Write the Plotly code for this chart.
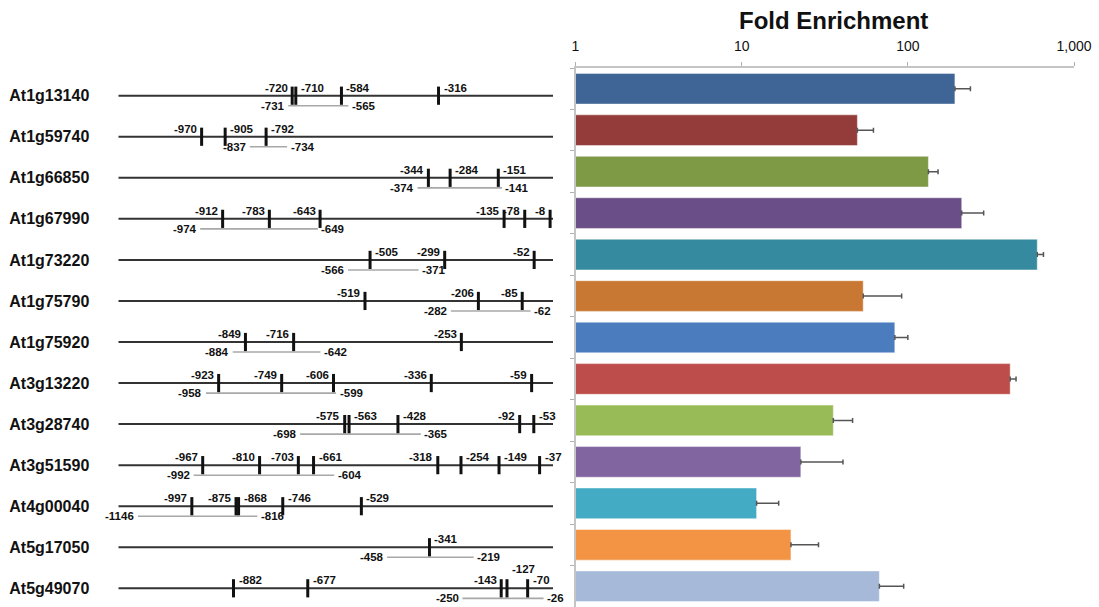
import plotly.graph_objects as go

# ---------------- data ----------------
genes = ["At1g13140", "At1g59740", "At1g66850", "At1g67990", "At1g73220",
         "At1g75790", "At1g75920", "At3g13220", "At3g28740", "At3g51590",
         "At4g00040", "At5g17050", "At5g49070"]

fold_enrichment = [192, 49.7, 133, 211, 601, 53.9, 83.5, 413, 35.6, 22.7, 12.3, 19.8, 67.4]
fold_error = [46, 12.4, 19, 75, 54, 37.9, 16.5, 35, 10.9, 18, 4.4, 9.2, 27]

sites_At1g13140 = [-720, -710, -584, -316]
sites_At1g59740 = [-970, -905, -792]
sites_At1g66850 = [-344, -284, -151]
sites_At1g67990 = [-912, -783, -643, -135, -78, -8]
sites_At1g73220 = [-505, -299, -52]
sites_At1g75790 = [-519, -206, -85]
sites_At1g75920 = [-849, -716, -253]
sites_At3g13220 = [-923, -749, -606, -336, -59]
sites_At3g28740 = [-575, -563, -428, -92, -53]
sites_At3g51590 = [-967, -810, -703, -661, -318, -254, -149, -37]
sites_At4g00040 = [-997, -875, -868, -746, -529]
sites_At5g17050 = [-341]
sites_At5g49070 = [-882, -677, -143, -127, -70]

region_start = [-731, -837, -374, -974, -566, -282, -884, -958, -698, -992, -1146, -458, -250]
region_end = [-565, -734, -141, -649, -371, -62, -642, -599, -365, -604, -816, -219, -26]

promoter_start = -1200
promoter_end = 0

x_ticks = [1, 10, 100, 1000]

sites = [sites_At1g13140, sites_At1g59740, sites_At1g66850, sites_At1g67990,
         sites_At1g73220, sites_At1g75790, sites_At1g75920, sites_At3g13220,
         sites_At3g28740, sites_At3g51590, sites_At4g00040, sites_At5g17050,
         sites_At5g49070]

# ---------------- styles ----------------
bar_colors = ["#3F6496", "#943C3A", "#7E9A45", "#6A4E87", "#358A9F", "#C87833",
              "#4B7DBE", "#BD4D4A", "#98BA57", "#8065A1", "#44ABC5", "#F39444",
              "#A6B9D8"]
label_side_pref = ["LRRR", "LRR", "LLL", "LLLLLL", "RLL", "LLL", "LLL", "LLLLL",
                   "LLLLL", "LLLLLLLL", "LLRRR", "R", "RRLRR"]

W, H = 1099, 607
FONT = "Liberation Sans, Arial, sans-serif"
LBL_SIZE = 11.5
GRAY_OFF = 0.245          # gray region line sits below the promoter line (row units)
top_px = 68
ydom = [0, 1 - top_px / H]
left_dom_px = (118.3, 553.0)
right_dom_px = (575.5, 1074.0)
px_per_bp = (left_dom_px[1] - left_dom_px[0]) / (promoter_end - promoter_start)


def text_w(s, size=LBL_SIZE):
    return size * sum(0.333 if c == "-" else 0.556 for c in s)


def to_px(bp):
    return left_dom_px[0] + (bp - promoter_start) * px_per_bp


def choose_sides(vals, prefs):
    """Pick a side (and level) for each site label so that labels avoid marks."""
    out = []
    occupied = -1e9
    gapL, gapR = 2.5, 3.0
    for k, v in enumerate(vals):
        w = text_w(str(v)) - 1.5
        x = to_px(v)
        nxt = to_px(vals[k + 1]) if k + 1 < len(vals) else 1e9
        left_ok = (x - gapL - w) >= occupied + 0.5
        right_ok = (x + gapR + w) <= nxt - 2
        pref = prefs[k]
        level = 0
        if pref == "L":
            side = "L" if left_ok else ("R" if right_ok else None)
        else:
            side = "R" if right_ok else ("L" if left_ok else None)
        if side is None:
            side, level = pref, 1
            occupied = max(occupied, x + 1.5)
        elif side == "L":
            occupied = x + 1.5
        else:
            occupied = x + gapR + w
        out.append((side, level))
    return out


n = len(genes)
rows = list(range(n))

fig = go.Figure()

# promoter lines
lx, ly = [], []
for i in rows:
    lx += [promoter_start, promoter_end, None]
    ly += [i, i, None]
fig.add_trace(go.Scatter(x=lx, y=ly, mode="lines", line=dict(color="#333333", width=2),
                         hoverinfo="skip", xaxis="x", yaxis="y", showlegend=False))

# gray region lines
gx, gy = [], []
for i in rows:
    gx += [region_start[i], region_end[i], None]
    gy += [i + GRAY_OFF, i + GRAY_OFF, None]
fig.add_trace(go.Scatter(x=gx, y=gy, mode="lines", line=dict(color="#A8A8A8", width=1.6),
                         hoverinfo="skip", xaxis="x", yaxis="y", showlegend=False))

# site marks
mx, my = [], []
for i in rows:
    for v in sites[i]:
        mx.append(v)
        my.append(i)
fig.add_trace(go.Scatter(x=mx, y=my, mode="markers",
                         marker=dict(symbol="line-ns", size=13,
                                     line=dict(width=3, color="#111111")),
                         cliponaxis=False, hoverinfo="skip",
                         xaxis="x", yaxis="y", showlegend=False))

annotations = []
lbl_font = dict(family=FONT, size=LBL_SIZE, color="#111111", weight="bold")
for i in rows:
    placements = choose_sides(sites[i], label_side_pref[i])
    for v, (sd, lvl) in zip(sites[i], placements):
        annotations.append(dict(
            x=v, y=i, xref="x", yref="y", text=str(v), showarrow=False,
            xanchor="right" if sd == "L" else "left", yanchor="middle",
            xshift=-2.5 if sd == "L" else 3, yshift=8 + 11 * lvl, font=lbl_font))
    annotations.append(dict(
        x=region_start[i], y=i + GRAY_OFF, xref="x", yref="y", text=str(region_start[i]),
        showarrow=False, xanchor="right", yanchor="middle", xshift=-1.5, yshift=0,
        font=lbl_font))
    annotations.append(dict(
        x=region_end[i], y=i + GRAY_OFF, xref="x", yref="y", text=str(region_end[i]),
        showarrow=False, xanchor="left", yanchor="middle", xshift=1.5, yshift=0,
        font=lbl_font))

# bars
fig.add_trace(go.Bar(
    x=fold_enrichment, y=genes, orientation="h", width=0.74,
    marker=dict(color=bar_colors, line=dict(color="rgba(255,255,255,0.45)", width=1)),
    error_x=dict(type="data", symmetric=False, array=fold_error,
                 arrayminus=[0] * n, color="#555555", thickness=1.5, width=2.5),
    xaxis="x2", yaxis="y2", showlegend=False, hoverinfo="x+y"))

annotations.append(dict(
    x=833.5 / W, y=1 - 21 / H, xref="paper", yref="paper", text="Fold Enrichment",
    showarrow=False, xanchor="center", yanchor="middle",
    font=dict(family=FONT, size=24, color="#111111", weight="bold")))

# left panel y range so that rows fall under their bars
row_px = 41.05
first_row_px = 95.7
span_units = (H - top_px) / row_px
r_top = -(first_row_px - top_px) / row_px
r_bot = r_top + span_units

fig.update_layout(
    width=W, height=H, margin=dict(l=0, r=0, t=0, b=0, pad=0, autoexpand=False),
    paper_bgcolor="white", plot_bgcolor="white",
    font=dict(family=FONT, color="#111111"),
    bargap=0.26,
    annotations=annotations,
    xaxis=dict(domain=[left_dom_px[0] / W, left_dom_px[1] / W],
               range=[promoter_start, promoter_end], visible=False, fixedrange=True,
               automargin=False),
    yaxis=dict(domain=ydom, range=[r_bot, r_top], tickvals=rows, ticktext=genes,
               showgrid=False, zeroline=False, showline=False, ticks="",
               ticklabelstandoff=28, automargin=False,
               tickfont=dict(family=FONT, size=16, color="#111111", weight="bold")),
    xaxis2=dict(domain=[right_dom_px[0] / W, right_dom_px[1] / W], type="log",
                range=[0, 3], side="top", anchor="y2", automargin=False,
                tickvals=x_ticks, ticktext=[f"{v:,}" for v in x_ticks],
                tickfont=dict(family=FONT, size=14, color="#111111"),
                showline=True, linecolor="#C4C4C4", linewidth=1.5,
                ticks="outside", ticklen=4, tickcolor="#B0B0B0",
                ticklabelstandoff=6,
                showgrid=False, zeroline=False),
    yaxis2=dict(domain=ydom, anchor="x2", autorange=False, range=[n - 0.5, -0.5],
                type="category", categoryorder="array", categoryarray=genes,
                showticklabels=False, showline=True, linecolor="#C4C4C4", linewidth=1.5,
                ticks="outside", ticklen=4, tickcolor="#B0B0B0", tickson="boundaries",
                automargin=False, showgrid=False, zeroline=False),
)

fig.write_html("out.html", config={"displayModeBar": False},
               post_script="document.body.style.margin='0';document.body.style.overflow='hidden';")
